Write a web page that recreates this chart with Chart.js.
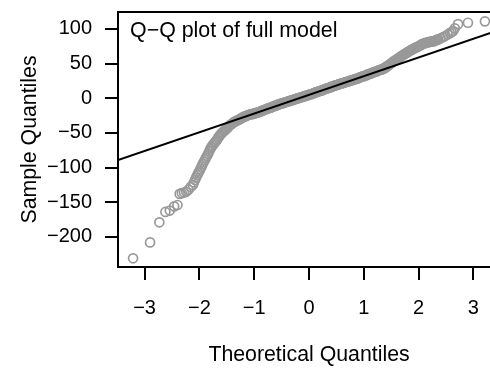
<!DOCTYPE html>
<html>
<head>
<meta charset="utf-8"/>
<style>
  html,body{margin:0;padding:0;background:#fff;overflow:hidden;}
  #wrap{width:510px;height:369px;}
</style>
</head>
<body>
<div id="wrap"><canvas id="c" width="510" height="369"></canvas></div>
<script src="https://cdn.jsdelivr.net/npm/chart.js@4.4.0/dist/chart.umd.min.js"></script>
<script>
// theoretical quantiles (x) and sample quantiles (y)
const theoretical = [
  -3.21, -2.90, -2.73, -2.62, -2.54, -2.46, -2.40, -2.36, -2.32, -2.28, -2.24, -2.20, -2.16,
  -2.12, -2.10, -2.08, -2.06, -2.04, -2.02, -2.00, -1.98, -1.96, -1.94,
  -1.92, -1.90, -1.88, -1.86, -1.84, -1.82, -1.80, -1.78, -1.76, -1.74,
  -1.72, -1.70, -1.68, -1.66, -1.64, -1.62, -1.60, -1.58, -1.56, -1.54,
  -1.52, -1.50, -1.48, -1.46, -1.44, -1.42, -1.40, -1.38, -1.36, -1.34,
  -1.32, -1.30, -1.28, -1.26, -1.24, -1.22, -1.20, -1.18, -1.16, -1.14,
  -1.12, -1.10, -1.08, -1.06, -1.04, -1.02, -1.00, -0.98, -0.96, -0.94,
  -0.92, -0.90, -0.88, -0.86, -0.84, -0.82, -0.80, -0.78, -0.76, -0.74,
  -0.72, -0.70, -0.68, -0.66, -0.64, -0.62, -0.60, -0.58, -0.56, -0.54,
  -0.52, -0.50, -0.48, -0.46, -0.44, -0.42, -0.40, -0.38, -0.36, -0.34,
  -0.32, -0.30, -0.28, -0.26, -0.24, -0.22, -0.20, -0.18, -0.16, -0.14,
  -0.12, -0.10, -0.08, -0.06, -0.04, -0.02, 0.00, 0.02, 0.04, 0.06,
  0.08, 0.10, 0.12, 0.14, 0.16, 0.18, 0.20, 0.22, 0.24, 0.26,
  0.28, 0.30, 0.32, 0.34, 0.36, 0.38, 0.40, 0.42, 0.44, 0.46,
  0.48, 0.50, 0.52, 0.54, 0.56, 0.58, 0.60, 0.62, 0.64, 0.66,
  0.68, 0.70, 0.72, 0.74, 0.76, 0.78, 0.80, 0.82, 0.84, 0.86,
  0.88, 0.90, 0.92, 0.94, 0.96, 0.98, 1.00, 1.02, 1.04, 1.06,
  1.08, 1.10, 1.12, 1.14, 1.16, 1.18, 1.20, 1.22, 1.24, 1.26,
  1.28, 1.30, 1.32, 1.34, 1.36, 1.38, 1.40, 1.42, 1.44, 1.46,
  1.48, 1.50, 1.52, 1.54, 1.56, 1.58, 1.60, 1.62, 1.64, 1.66,
  1.68, 1.70, 1.72, 1.74, 1.76, 1.78, 1.80, 1.82, 1.84, 1.86,
  1.88, 1.90, 1.92, 1.94, 1.96, 1.98, 2.00, 2.02, 2.04, 2.06,
  2.08, 2.10, 2.12, 2.14, 2.16, 2.18, 2.20, 2.22, 2.24, 2.26,
  2.28, 2.30, 2.32, 2.34, 2.36,
  2.40, 2.44, 2.48, 2.53, 2.57, 2.60, 2.63, 2.66, 2.72, 2.90, 3.21
];
const sample = [
  -231, -208, -179, -164, -162, -156, -154, -138, -137, -136, -135, -132, -128,
  -125, -121.5, -118, -114.5, -111, -108, -105, -102, -98.5, -95,
  -92, -89, -86, -83, -80, -76.5, -73, -70.5, -68, -66,
  -64, -62, -60, -57.5, -55, -53, -51, -49.5, -48, -46.5,
  -45, -43.5, -42, -40.5, -39, -37.5, -36.5, -35, -34, -33,
  -32.5, -31.5, -31, -30, -29, -28, -27.5, -26.5, -26, -25,
  -24.5, -24, -23.5, -23, -23, -22.5, -22, -21.5, -21, -20.5,
  -20, -19.5, -19, -18, -17.5, -17, -16.5, -15.5, -15, -14.5,
  -14, -13.5, -13, -12, -11.5, -11, -10.5, -9.5, -9, -8.5,
  -8, -7.5, -7, -6.5, -6, -5.5, -5, -4.5, -4, -3.5,
  -3, -2.5, -2, -1.5, -1, -0.5, 0, 0.5, 1, 1.5,
  2, 2.5, 3, 3.5, 4, 4.5, 5, 5.5, 6, 6.5,
  7, 8, 8.5, 9, 9.5, 10, 10.5, 11, 11.5, 12,
  13, 13.5, 14, 14.5, 15, 15.5, 16, 17, 17.5, 18,
  18.5, 19, 19.5, 20, 20.5, 21, 21.5, 22, 22.5, 23,
  23.5, 24, 24.5, 25, 25.5, 26, 26.5, 27, 27.5, 28,
  28.5, 29, 30, 30.5, 31, 31.5, 32, 32.5, 33, 34,
  34.5, 35, 35.5, 36, 37, 37.5, 38, 38.5, 39, 40,
  40.5, 41, 41.5, 42, 43, 43.5, 44.5, 46, 47, 48,
  49.5, 50.5, 51.5, 53, 54, 55, 56, 57, 58.5, 59.5,
  60.5, 61.5, 62.5, 63.5, 64.5, 65.5, 66.5, 67.5, 68.5, 69.5,
  70.5, 71, 72, 73, 73.5, 74, 75, 76, 77, 78,
  78.5, 79, 80, 80, 80.5, 81, 81.5, 81.5, 82, 82,
  82.5, 83, 84, 84.5, 85,
  86.5, 88, 89.5, 92, 94, 95.5, 97, 101, 107, 109, 111
];
// qqline
const lineIntercept = 5;
const lineSlope = 27;

const xTicks = [-3, -2, -1, 0, 1, 2, 3];
const yTicks = [-200, -150, -100, -50, 0, 50, 100];
const xMin = -3.485, xMax = 3.485;
const yMin = -243.5, yMax = 124.5;

const FONT = '"Liberation Sans", Arial, Helvetica, sans-serif';
const minus = v => (v < 0 ? '\u2212' + Math.abs(v) : String(v));

const boxAndLegend = {
  id: 'boxAndLegend',
  afterDraw(chart) {
    const { ctx, chartArea: a } = chart;
    ctx.save();
    ctx.strokeStyle = '#000';
    ctx.lineWidth = 2;
    ctx.strokeRect(a.left, a.top, a.right - a.left, a.bottom - a.top);
    ctx.fillStyle = '#000';
    ctx.font = '21.4px ' + FONT;
    ctx.textBaseline = 'middle';
    ctx.textAlign = 'left';
    ctx.fillText('Q\u2212Q plot of full model', a.left + 12, a.top + 19.5);
    ctx.restore();
  }
};

new Chart(document.getElementById('c'), {
  type: 'scatter',
  data: {
    datasets: [
      {
        type: 'line',
        order: 0,
        data: [
          { x: xMin, y: lineIntercept + lineSlope * xMin },
          { x: xMax, y: lineIntercept + lineSlope * xMax }
        ],
        borderColor: '#000',
        borderWidth: 2,
        pointRadius: 0,
        fill: false
      },
      {
        order: 1,
        data: theoretical.map((x, i) => ({ x, y: sample[i] })),
        pointStyle: 'circle',
        pointRadius: 4.5,
        borderWidth: 1.7,
        borderColor: '#999999',
        backgroundColor: 'rgba(0,0,0,0)'
      }
    ]
  },
  options: {
    responsive: false,
    animation: false,
    devicePixelRatio: 1,
    layout: { padding: { left: 0, right: 10, top: 12, bottom: 0 } },
    plugins: { legend: { display: false }, tooltip: { enabled: false } },
    scales: {
      x: {
        type: 'linear',
        min: xMin, max: xMax,
        afterBuildTicks: s => { s.ticks = xTicks.map(v => ({ value: v })); },
        afterFit: s => { s.height = 102; s.paddingLeft = 0; s.paddingRight = 0; },
        border: { display: false },
        grid: { drawOnChartArea: false, drawTicks: true, tickLength: 13, tickColor: '#000', lineWidth: 2 },
        ticks: { color: '#000', padding: 16, maxRotation: 0, font: { family: FONT, size: 20 }, callback: minus },
        title: { display: true, text: 'Theoretical Quantiles', color: '#000', font: { family: FONT, size: 21.3 }, padding: { top: 0, bottom: 1 } }
      },
      y: {
        type: 'linear',
        min: yMin, max: yMax,
        afterBuildTicks: s => { s.ticks = yTicks.map(v => ({ value: v })); },
        afterFit: s => { s.width = 118; s.paddingTop = 0; s.paddingBottom = 0; },
        border: { display: false },
        grid: { drawOnChartArea: false, drawTicks: true, tickLength: 13, tickColor: '#000', lineWidth: 2 },
        ticks: { color: '#000', padding: 13, font: { family: FONT, size: 20 }, callback: minus },
        title: { display: true, text: 'Sample Quantiles', color: '#000', font: { family: FONT, size: 21.3 }, padding: { top: 17, bottom: 0 } }
      }
    }
  },
  plugins: [boxAndLegend]
});
</script>
</body>
</html>
